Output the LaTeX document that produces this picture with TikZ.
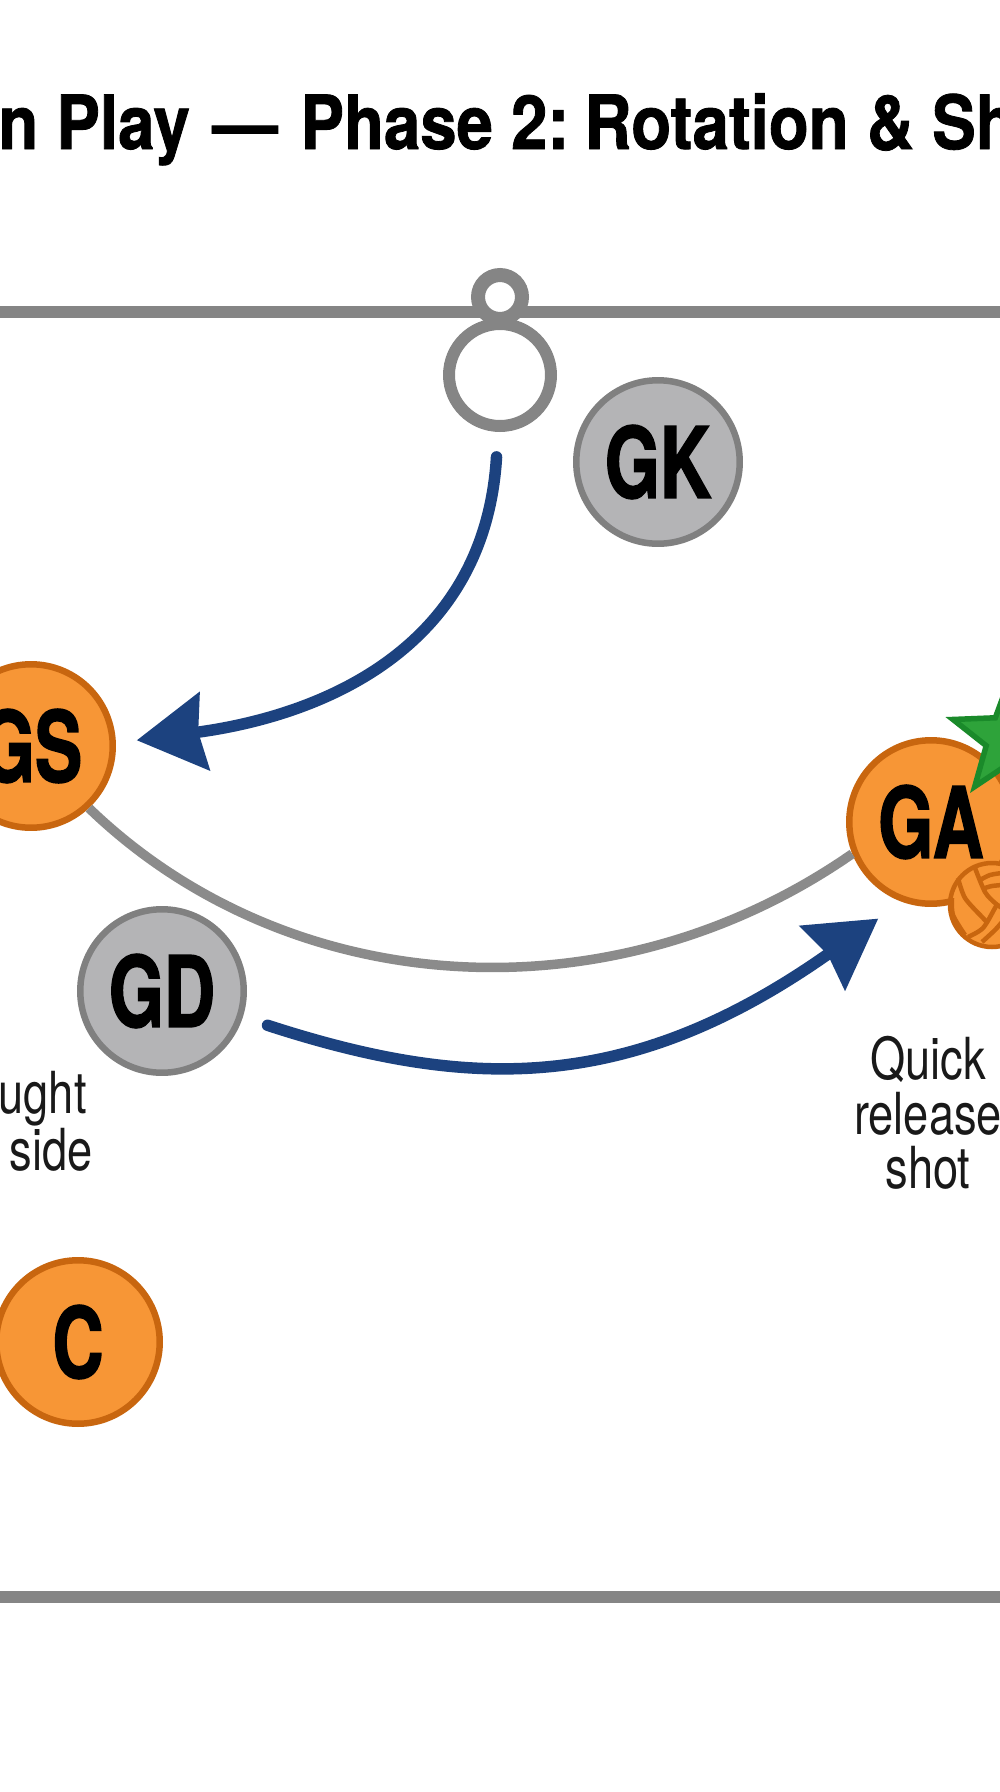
\documentclass[tikz,border=0pt]{standalone}
\usepackage{fontspec}
\usepackage{tikz}
\usetikzlibrary{arrows.meta,shapes.geometric}
\setmainfont{TeX Gyre Heros}
\newfontfamily\titlefont[FakeStretch=0.875,FakeBold=1.1]{TeX Gyre Heros Bold}
\newfontfamily\playerfont[FakeStretch=0.72,FakeBold=1.5]{TeX Gyre Heros Bold}
\newfontfamily\notefont[FakeStretch=0.78]{TeX Gyre Heros}
\definecolor{courtgrey}{HTML}{858585}
\definecolor{teamorange}{HTML}{F79636}
\definecolor{teamedge}{HTML}{C8660F}
\definecolor{oppfill}{HTML}{B4B4B6}
\definecolor{oppedge}{HTML}{808080}
\definecolor{passblue}{HTML}{1C427F}
\definecolor{stargreen}{HTML}{2EA33A}
\definecolor{staredge}{HTML}{1A8A2A}
\tikzset{
	player/.style={circle,draw,line width=0.13cm,minimum size=3.27cm,inner sep=0pt,text=black,font=\playerfont\fontsize{56}{56}\selectfont},
	team/.style={player,fill=teamorange,draw=teamedge},
	opp/.style={player,fill=oppfill,draw=oppedge},
	courtline/.style={draw=courtgrey,line width=0.24cm},
	hoopring/.style={circle,draw=courtgrey,inner sep=0pt,fill=none},
	movearc/.style={draw=courtgrey!95!white,line width=0.19cm},
	passarc/.style={draw=passblue,line width=0.23cm,line cap=round,-{Stealth[length=1.36cm,width=1.55cm,inset=0.12cm]}},
	seam/.style={draw=teamedge,line width=0.09cm},
	note/.style={font=\notefont\fontsize{33}{31}\selectfont,inner sep=0pt,text=black!90}
}
\begin{document}
\begin{tikzpicture}[x=0.02cm,y=-0.02cm]
	\useasboundingbox (0,0) rectangle (1000,1792);
	\clip (0,0) rectangle (1000,1792);

	\node[anchor=base west,inner sep=0pt,font=\titlefont\fontsize{42.5}{42.5}\selectfont] (title) at (-2,149) {n Play\kern0.09cm{} — \kern0.09cm{}Phase 2:\kern-0.18cm{} Rotation \& Sh};

	% court
	\coordinate (topl) at (0,312);
	\coordinate (topr) at (1000,312);
	\coordinate (botl) at (0,1597);
	\coordinate (botr) at (1000,1597);
	\draw[courtline] (topl) -- (topr);
	\draw[courtline] (botl) -- (botr);
	\node[hoopring,line width=0.28cm,minimum size=0.88cm,fill=white] (post) at (500,297) {};
	\node[hoopring,line width=0.24cm,minimum size=2.04cm] (ring) at (500,375) {};

	% players
	\node[opp] (GK) at (658,462) {GK};
	\node[team] (GS) at (31,746) {GS};
	\node[opp] (GD) at (162,991) {GD};
	\node[team] (C) at (78,1342) {C};
	\node[team] (GA) at (931,822) {GA};

	% star and ball
	\node[star,star points=5,star point ratio=2.4,draw=staredge,fill=stargreen,line width=0.11cm,minimum size=2.4cm,inner sep=0pt] (shooter) at (1010,738) {};
	\node[circle,draw=teamedge,fill=teamorange,line width=0.09cm,minimum size=1.68cm,inner sep=0pt] (ball) at (992,905) {};
	\draw[seam] plot[smooth] coordinates {(958,878) (965,898) (982,917) (987,922)};
	\draw[seam] plot[smooth] coordinates {(975,868) (985,892) (995,903) (1002,908)};
	\draw[seam] plot[smooth] coordinates {(980,880) (990,875) (1002,873)};
	\draw[seam] plot[smooth] coordinates {(985,888) (992,886) (1002,885)};
	\draw[seam] plot[smooth] coordinates {(968,937) (983,928) (995,908) (998,903)};
	\draw[seam] plot[smooth] coordinates {(952,898) (953,915) (965,935)};
	\draw[seam] plot[smooth] coordinates {(982,942) (995,930) (1002,922)};

	% runs and passes
	\draw[movearc] (GS.-47) .. controls (290,1002) and (612,1021) .. (GA.202);
	\draw[passarc,shorten <=0.5cm,shorten >=0.42cm] (ring.-92) .. controls (485,650) and (320,716) .. (GS.2);
	\draw[passarc,shorten <=0.52cm,shorten >=0.58cm] (GD.-18) .. controls (470,1091) and (630,1094) .. (GA.250);

	% notes
	\node[note,align=center,anchor=north] (shotnote) at (928,1036) {Quick\\release\\shot};
	\node[note,align=right,anchor=north east] (caughtnote) at (93,1071) {ught\hspace*{0.12cm}\\side};
\end{tikzpicture}
\end{document}
